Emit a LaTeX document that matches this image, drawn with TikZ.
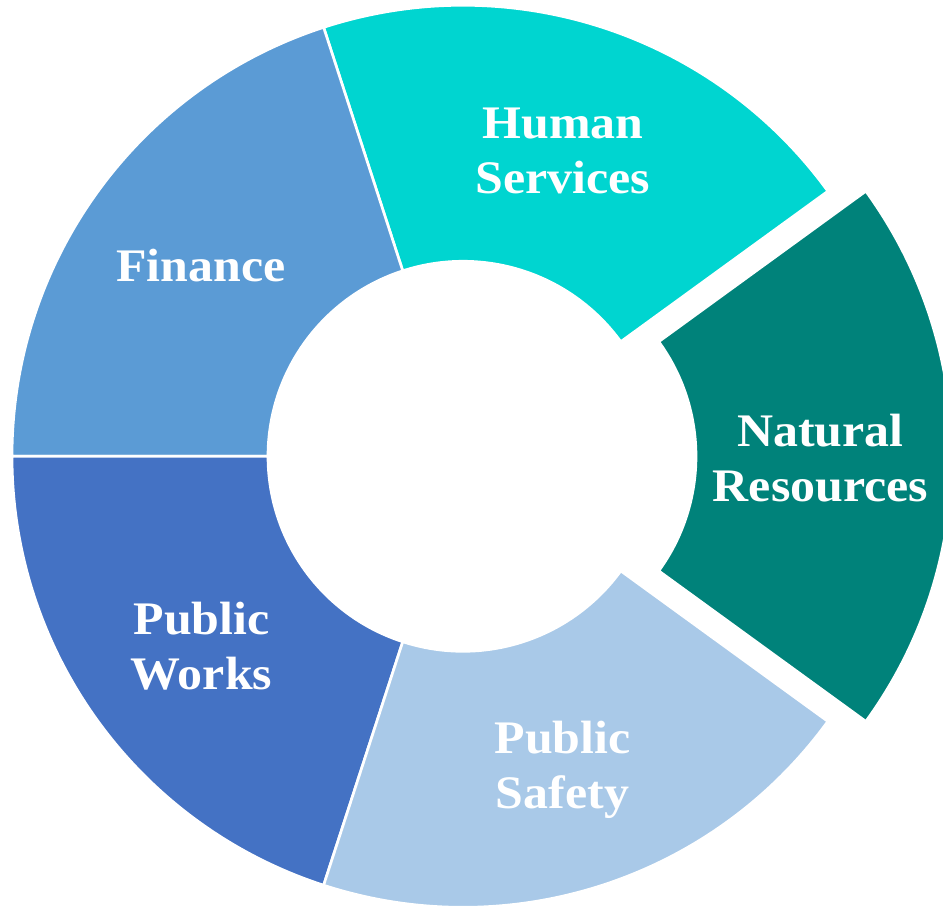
\documentclass[tikz,border=0pt]{standalone}
\usepackage{fontspec}
\setmainfont[FakeStretch=1.07]{Liberation Serif}
\usetikzlibrary{calc}
\definecolor{hscol}{RGB}{0,213,208}
\definecolor{nrcol}{RGB}{0,130,122}
\definecolor{fincol}{RGB}{91,155,213}
\definecolor{pwcol}{RGB}{68,114,196}
\definecolor{pscol}{RGB}{169,201,232}
\newcommand\ringseg[4]{% color, start angle, end angle, center
  \filldraw[segstyle,fill=#1] ($(#4)+(#2:451)$) arc[start angle=#2,end angle=#3,radius=451]
    -- ($(#4)+(#3:195)$) arc[start angle=#3,end angle=#2,radius=195] -- cycle;}
\begin{document}
\begin{tikzpicture}[x=0.75pt,y=0.75pt,
  segstyle/.style={draw=white,line width=2pt,line join=miter},
  lbl/.style={anchor=base,text=white,inner sep=0pt,font=\fontsize{35}{41.25}\selectfont\bfseries}]
\useasboundingbox (0,0) rectangle (943,906);
\clip (0,0) rectangle (943,906);
\coordinate (c) at (463,449.7);
\coordinate (cx) at (501,449.7);
\ringseg{hscol}{36}{108}{c}
\ringseg{fincol}{108}{180}{c}
\ringseg{pwcol}{180}{252}{c}
\ringseg{pscol}{252}{324}{c}
\ringseg{nrcol}{-36}{36}{cx}
\node[lbl] (hs) at (563,767.7) {\begin{tabular}[t]{@{}c@{}}Human\\Services\end{tabular}};
\node[lbl] (fin) at (201,624.3) {Finance};
\node[lbl] (nr) at (820.5,459.3) {\begin{tabular}[t]{@{}c@{}}Natural\\Resources\end{tabular}};
\node[lbl] (pw) at (201.5,271) {\begin{tabular}[t]{@{}c@{}}Public\\Works\end{tabular}};
\node[lbl] (ps) at (562.5,152.7) {\begin{tabular}[t]{@{}c@{}}Public\\Safety\end{tabular}};
\end{tikzpicture}
\end{document}
